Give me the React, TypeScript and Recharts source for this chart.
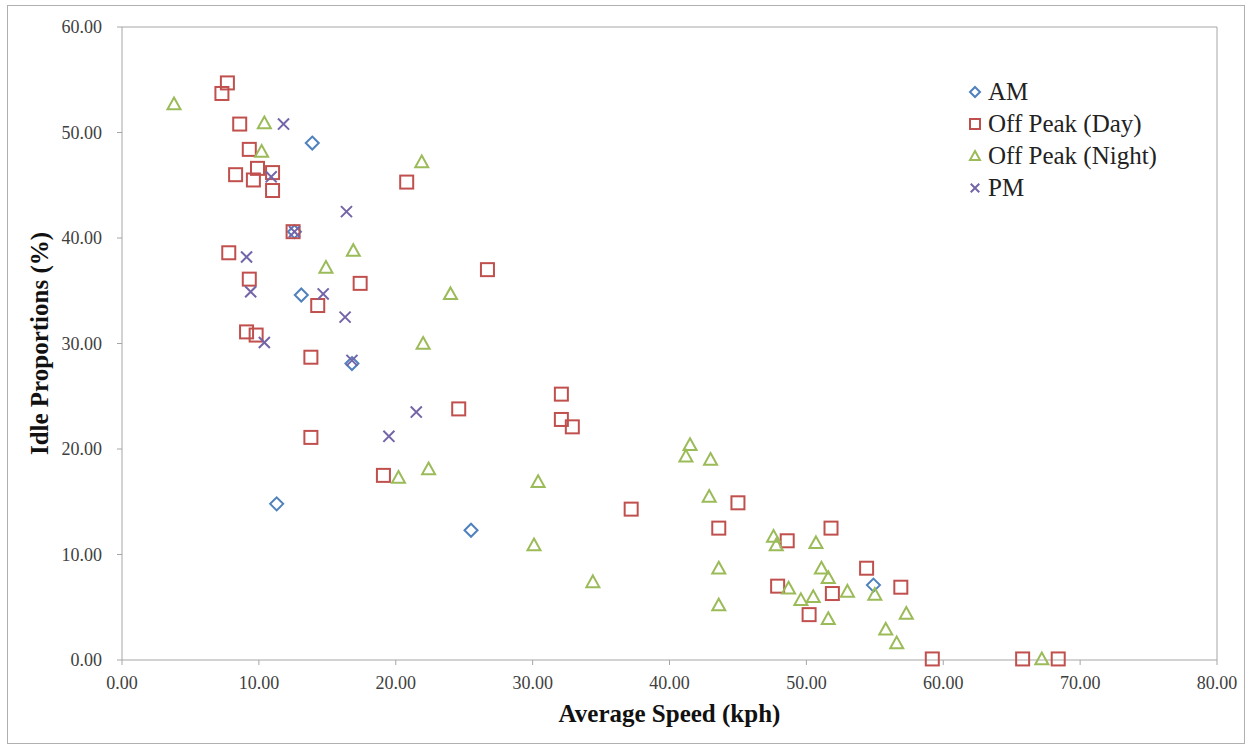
import React from "react";
import { ScatterChart, Scatter, XAxis, YAxis, ReferenceLine } from "recharts";

// [speed kph, idle %]
const amPoints: Array<[number, number]> = [
  [13.9, 49.0], [12.6, 40.6], [13.1, 34.6], [16.8, 28.1], [11.3, 14.8], [25.5, 12.3], [54.9, 7.1],
];

const offPeakDayPoints: Array<[number, number]> = [
  [7.7, 54.7], [7.3, 53.7], [8.6, 50.8], [9.3, 48.4], [8.3, 46.0], [9.6, 45.5], [9.9, 46.6],
  [11.0, 46.2], [11.0, 44.5], [12.5, 40.6], [7.8, 38.6], [9.3, 36.1], [17.4, 35.7], [14.3, 33.6],
  [9.1, 31.1], [9.8, 30.8], [13.8, 28.7], [13.8, 21.1], [19.1, 17.5], [20.8, 45.3], [26.7, 37.0],
  [24.6, 23.8], [32.1, 25.2], [32.1, 22.8], [32.9, 22.1], [37.2, 14.3], [45.0, 14.9], [43.6, 12.5],
  [51.8, 12.5], [48.6, 11.3], [54.4, 8.7], [47.9, 7.0], [51.9, 6.3], [56.9, 6.9], [50.2, 4.3],
  [59.2, 0.1], [65.8, 0.1], [68.4, 0.1],
];

const offPeakNightPoints: Array<[number, number]> = [
  [3.8, 52.7], [10.4, 50.9], [10.2, 48.2], [16.9, 38.8], [14.9, 37.2], [22.0, 30.0], [20.2, 17.3],
  [22.4, 18.1], [24.0, 34.7], [21.9, 47.2], [30.4, 16.9], [30.1, 10.9], [34.4, 7.4], [41.5, 20.4],
  [41.2, 19.3], [43.0, 19.0], [42.9, 15.5], [43.6, 8.7], [43.6, 5.2], [47.6, 11.7], [47.8, 10.9],
  [50.7, 11.1], [51.1, 8.7], [51.6, 7.8], [53.0, 6.5], [48.7, 6.8], [49.6, 5.7], [50.5, 6.0],
  [51.6, 3.9], [55.0, 6.2], [57.3, 4.4], [55.8, 2.9], [56.6, 1.6], [67.2, 0.1],
];

const pmPoints: Array<[number, number]> = [
  [11.8, 50.8], [16.4, 42.5], [9.1, 38.2], [9.4, 34.9], [14.7, 34.7], [16.3, 32.5], [10.4, 30.1],
  [16.8, 28.4], [21.5, 23.5], [19.5, 21.2], [10.9, 45.8], [12.6, 40.6],
];

const xTicks = [0, 10, 20, 30, 40, 50, 60, 70, 80];
const yTicks = [0, 10, 20, 30, 40, 50, 60];

const BLUE = "#4F81BD";
const RED = "#C0504D";
const GREEN = "#9BBB59";
const PURPLE = "#7464A8";
const AXIS = "#a6a6a6";
const SERIF = "'Liberation Serif', 'Times New Roman', serif";

const toPoints = (pts: Array<[number, number]>) => pts.map(([x, y]) => ({ x, y }));

function Marker({ kind, cx, cy, r, color }: { kind: string; cx: number; cy: number; r: number; color: string }) {
  const common = { fill: "none", stroke: color, strokeWidth: 2 };
  if (kind === "diamond")
    return <path d={`M${cx},${cy - r} L${cx + r},${cy} L${cx},${cy + r} L${cx - r},${cy} Z`} {...common} />;
  if (kind === "square") return <rect x={cx - r} y={cy - r} width={r * 2} height={r * 2} {...common} />;
  if (kind === "triangle")
    return <path d={`M${cx},${cy - r} L${cx + r},${cy + r * 0.8} L${cx - r},${cy + r * 0.8} Z`} {...common} />;
  const a = r * 0.85;
  return <path d={`M${cx - a},${cy - a} L${cx + a},${cy + a} M${cx + a},${cy - a} L${cx - a},${cy + a}`} {...common} />;
}

const shapeFor = (kind: string, color: string) => (props: any) =>
  <Marker kind={kind} cx={props.cx} cy={props.cy} r={6.5} color={color} />;

const legendItems = [
  { label: "AM", kind: "diamond", color: BLUE },
  { label: "Off Peak (Day)", kind: "square", color: RED },
  { label: "Off Peak (Night)", kind: "triangle", color: GREEN },
  { label: "PM", kind: "cross", color: PURPLE },
];

export default function App() {
  const tickStyle = { fill: "#404040", fontSize: 18, fontFamily: SERIF };
  return (
    <div style={{ position: "relative", width: 1253, height: 749, background: "#fff" }}>
      <style>{`body{margin:0;}`}</style>
      <div
        style={{
          position: "absolute", left: 7, top: 5, width: 1236, height: 737,
          border: "1px solid #b0b0b0", pointerEvents: "none",
        }}
      />
      <ScatterChart width={1253} height={749} margin={{ top: 27, right: 36, bottom: 0, left: 0 }}>
        <XAxis
          type="number" dataKey="x" domain={[0, 80]} ticks={xTicks} interval={0}
          tickFormatter={(v: number) => v.toFixed(2)}
          stroke={AXIS} tick={tickStyle} tickSize={5} tickMargin={11} height={89}
          label={{
            content: (p: any) => (
              <text x={p.viewBox.x + p.viewBox.width / 2} y={722} textAnchor="middle"
                fontFamily={SERIF} fontWeight="bold" fontSize={25} fill="#111">
                Average Speed (kph)
              </text>
            ),
          }}
        />
        <YAxis
          type="number" dataKey="y" domain={[0, 60]} ticks={yTicks} interval={0}
          tickFormatter={(v: number) => v.toFixed(2)}
          stroke={AXIS} tick={tickStyle} tickSize={5} tickMargin={15} width={122}
          label={{
            content: (p: any) => {
              const cy = p.viewBox.y + p.viewBox.height / 2;
              return (
                <text x={48} y={cy} textAnchor="middle" transform={`rotate(-90, 48, ${cy})`}
                  fontFamily={SERIF} fontWeight="bold" fontSize={25} fill="#111">
                  Idle Proportions (%)
                </text>
              );
            },
          }}
        />
        <ReferenceLine y={60} stroke={AXIS} />
        <ReferenceLine x={80} stroke={AXIS} />
        <Scatter name="AM" data={toPoints(amPoints)} shape={shapeFor("diamond", BLUE)} isAnimationActive={false} />
        <Scatter name="Off Peak (Day)" data={toPoints(offPeakDayPoints)} shape={shapeFor("square", RED)} isAnimationActive={false} />
        <Scatter name="Off Peak (Night)" data={toPoints(offPeakNightPoints)} shape={shapeFor("triangle", GREEN)} isAnimationActive={false} />
        <Scatter name="PM" data={toPoints(pmPoints)} shape={shapeFor("cross", PURPLE)} isAnimationActive={false} />
      </ScatterChart>
      <div style={{ position: "absolute", left: 966, top: 76, fontFamily: SERIF, fontSize: 25, color: "#222" }}>
        {legendItems.map((it) => (
          <div key={it.label} style={{ display: "flex", alignItems: "center", height: 32 }}>
            <svg width={18} height={18} style={{ marginRight: 4 }}>
              <Marker kind={it.kind} cx={9} cy={9} r={5} color={it.color} />
            </svg>
            <span>{it.label}</span>
          </div>
        ))}
      </div>
    </div>
  );
}
